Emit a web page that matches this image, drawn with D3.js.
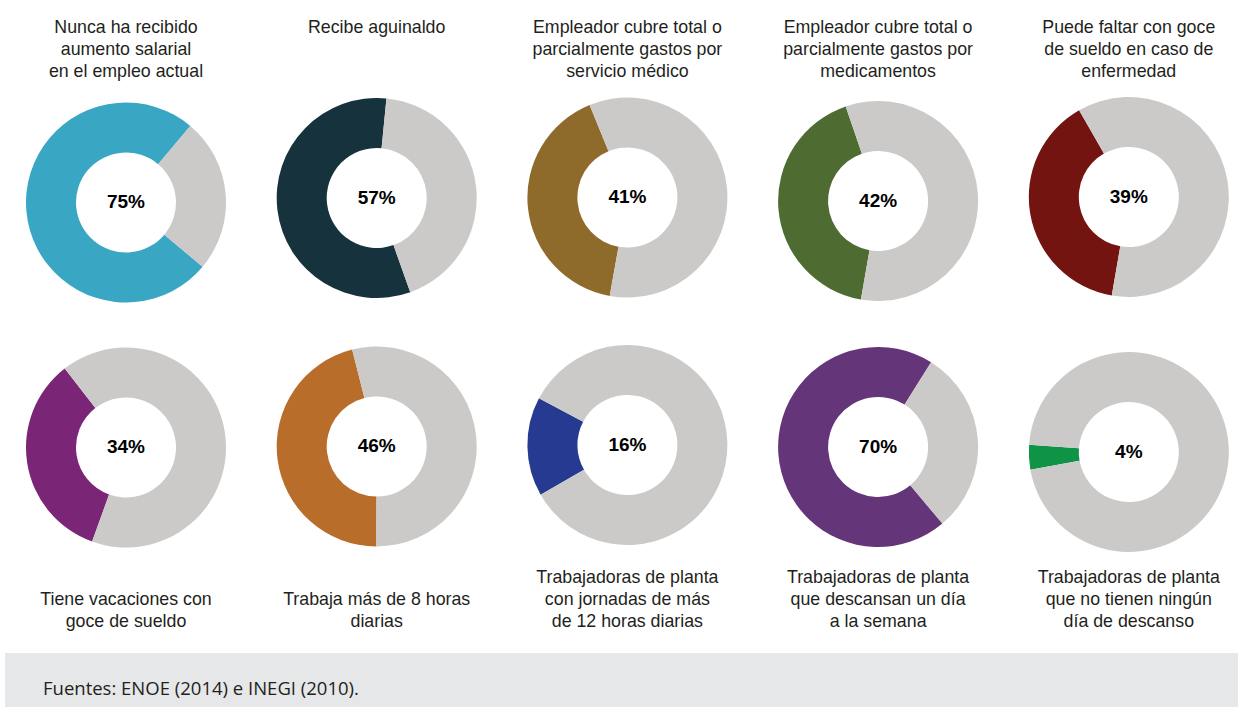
<!DOCTYPE html>
<html>
<head>
<meta charset="utf-8">
<script src="https://cdn.jsdelivr.net/npm/d3@7"></script>
<style>
  body { margin: 0; background: #fff; }
  svg { display: block; }
</style>
</head>
<body>
<div class="chart"></div>
<script>
// Data
var percentages = [75, 57, 41, 42, 39, 34, 46, 16, 70, 4];

var topTitles = [
  ["Nunca ha recibido", "aumento salarial", "en el empleo actual"],
  ["Recibe aguinaldo"],
  ["Empleador cubre total o", "parcialmente gastos por", "servicio médico"],
  ["Empleador cubre total o", "parcialmente gastos por", "medicamentos"],
  ["Puede faltar con goce", "de sueldo en caso de", "enfermedad"]
];

var bottomTitles = [
  ["Tiene vacaciones con", "goce de sueldo"],
  ["Trabaja más de 8 horas", "diarias"],
  ["Trabajadoras de planta", "con jornadas de más", "de 12 horas diarias"],
  ["Trabajadoras de planta", "que descansan un día", "a la semana"],
  ["Trabajadoras de planta", "que no tienen ningún", "día de descanso"]
];

var sliceColors = ["#39a7c3", "#16323c", "#8f6b2b", "#4e6b31", "#731410",
                   "#7b2576", "#b96d2b", "#263a91", "#65357a", "#0f9346"];

var sourceNote = "Fuentes: ENOE (2014) e INEGI (2010).";

// Layout
var svgWidth = 1238;
var svgHeight = 707;
var outerR = 100;
var innerR = 50;
var restColor = "#cbcac9";
var textColor = "#231f20";
// small per-donut nudges seen in the original layout
var nudgeY = [3, -1.5, -2, 1.5, -2.5, 0, -1, -2.5, -0.5, 4.5];
// where the coloured slice is centred, degrees clockwise from 12 o'clock
var sliceCenterDeg = [265, 263, 264, 265.5, 260, 261, 263, 269, 266, 267];

var svg = d3.select(".chart")
  .append("svg")
  .attr("width", svgWidth)
  .attr("height", svgHeight);

var xScale = d3.scalePoint().domain(d3.range(5)).range([126, 1128.8]);
var yScale = d3.scalePoint().domain([0, 1]).range([199.5, 447.5]);

var arc = d3.arc().innerRadius(innerR).outerRadius(outerR);

percentages.forEach(function(p, i) {
  var col = i % 5;
  var row = Math.floor(i / 5);
  var cx = xScale(col);
  var cy = yScale(row) + nudgeY[i];

  var share = p / 100;
  var start = sliceCenterDeg[i] * Math.PI / 180 - share * Math.PI;
  var pie = d3.pie()
    .sort(null)
    .startAngle(start)
    .endAngle(start + 2 * Math.PI);

  var g = svg.append("g")
    .attr("transform", "translate(" + cx + "," + cy + ")");

  g.selectAll("path")
    .data(pie([p, 100 - p]))
    .enter().append("path")
    .attr("d", arc)
    .attr("fill", function(d, k) { return k === 0 ? sliceColors[i] : restColor; });

  g.append("text")
    .attr("x", 0)
    .attr("y", -1)
    .attr("dy", "0.35em")
    .attr("text-anchor", "middle")
    .attr("font-family", "Liberation Sans, Arial, sans-serif")
    .attr("font-weight", "bold")
    .attr("font-size", "19px")
    .attr("fill", "#000")
    .text(p + "%");
});

// Titles above the first row
topTitles.forEach(function(lines, col) {
  var t = svg.append("text")
    .attr("text-anchor", "middle")
    .attr("font-family", "Liberation Sans, Arial, sans-serif")
    .attr("font-size", "17.8px")
    .attr("fill", textColor);
  lines.forEach(function(line, k) {
    t.append("tspan")
      .attr("x", xScale(col))
      .attr("y", 33 + k * 22)
      .text(line);
  });
});

// Labels below the second row (bottom aligned)
bottomTitles.forEach(function(lines, col) {
  var t = svg.append("text")
    .attr("text-anchor", "middle")
    .attr("font-family", "Liberation Sans, Arial, sans-serif")
    .attr("font-size", "17.8px")
    .attr("fill", textColor);
  var first = 627 - (lines.length - 1) * 22;
  lines.forEach(function(line, k) {
    t.append("tspan")
      .attr("x", xScale(col))
      .attr("y", first + k * 22)
      .text(line);
  });
});

// Source band
svg.append("rect")
  .attr("x", 5)
  .attr("y", 653)
  .attr("width", svgWidth - 5)
  .attr("height", svgHeight - 653)
  .attr("fill", "#e6e7e8");

svg.append("text")
  .attr("x", 43)
  .attr("y", 695)
  .attr("font-family", "Open Sans, sans-serif")
  .attr("font-size", "18.5px")
  .attr("fill", textColor)
  .text(sourceNote);
</script>
</body>
</html>
